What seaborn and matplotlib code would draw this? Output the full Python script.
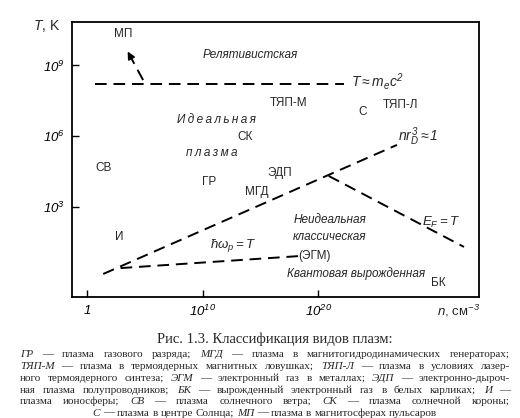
import matplotlib
matplotlib.use("Agg")
import matplotlib.pyplot as plt
import seaborn as sns
import pandas as pd

# координаты в показателях степени: lg n (см^-3) и lg T (K)
rel_n = [0.7, 22.2]
rel_T = [8.2, 8.2]
deb_n = [1.4, 26.8]
deb_T = [0.13, 5.62]
ferm_n = [20.9, 32.6]
ferm_T = [4.3, 1.28]
plas_n = [2.9, 18.3]
plas_T = [0.38, 0.89]
mp_n = [4.85, 3.4]
mp_T = [8.38, 9.7]

x_ticks = [0, 10, 20]
x_ticklabels = [r"$1$", r"$10^{10}$", r"$10^{20}$"]
y_ticks = [3, 6, 9]
y_ticklabels = [r"$10^{3}$", r"$10^{6}$", r"$10^{9}$"]

# подписи областей: текст, lg n, lg T (курсив)
region_names = ["Релятивистская", "И\u2009д\u2009е\u2009а\u2009л\u2009ь\u2009н\u2009а\u2009я",
                "п\u2009л\u2009а\u2009з\u2009м\u2009а", "Неидеальная", "классическая",
                "Квантовая вырожденная"]
region_n = [14.1, 11.2, 10.8, 21.0, 21.0, 23.3]
region_T = [9.45, 6.68, 5.28, 2.43, 1.72, 0.13]

plasma_names = ["МП", "ТЯП-М", "С", "ТЯП-Л", "СК", "СВ", "ГР", "МГД", "ЭДП", "И", "(ЭГМ)", "БК"]
plasma_n = [3.1, 17.4, 23.8, 27.1, 13.7, 1.4, 10.6, 14.7, 16.7, 2.8, 19.7, 30.4]
plasma_T = [10.34, 7.4, 7.02, 7.3, 5.96, 4.64, 4.04, 3.6, 4.43, 1.7, 0.89, -0.25]

caption_title = "Рис. 1.3. Классификация видов плазм:"
caption_lines = [
    "*ГР* — плазма газового разряда; *МГД* — плазма в магнитогидродинамических генераторах;",
    "*ТЯП-М* — плазма в термоядерных магнитных ловушках; *ТЯП-Л* — плазма в условиях лазер-",
    "ного термоядерного синтеза; *ЭГМ* — электронный газ в металлах; *ЭДП* — электронно-дыроч-",
    "ная плазма полупроводников; *БК* — вырожденный электронный газ в белых карликах; *И* —",
    "плазма ионосферы; *СВ* — плазма солнечного ветра; *СК* — плазма солнечной короны;",
    "*С* — плазма в центре Солнца; *МП* — плазма в магнитосферах пульсаров",
]

sns.set_style("ticks")
plt.rcParams["font.family"] = ["Liberation Sans", "DejaVu Sans"]
plt.rcParams["mathtext.fontset"] = "custom"
plt.rcParams["mathtext.rm"] = "Liberation Sans:italic"
plt.rcParams["mathtext.it"] = "Liberation Sans:italic"
plt.rcParams["mathtext.bf"] = "Liberation Sans:bold"

W, H = 520, 418
fig = plt.figure(figsize=(W / 100, H / 100), dpi=100)
ax = fig.add_axes([72 / W, 1 - 297 / H, (479 - 72) / W, (297 - 22) / H])

dash = (0, (6, 3.5))
for xs, ys in [(rel_n, rel_T), (deb_n, deb_T), (ferm_n, ferm_T), (plas_n, plas_T), (mp_n, mp_T)]:
    df = pd.DataFrame({"n": xs, "T": ys})
    sns.lineplot(data=df, x="n", y="T", ax=ax, color="black", lw=1.4,
                 linestyle=dash, sort=False, estimator=None)

# наконечник стрелки МП
ax.annotate("", xy=(mp_n[1], mp_T[1]),
            xytext=(mp_n[1] + 0.25 * (mp_n[0] - mp_n[1]), mp_T[1] + 0.25 * (mp_T[0] - mp_T[1])),
            arrowprops=dict(arrowstyle="-|>", color="black", lw=1.2, mutation_scale=11))

for name, x, y in zip(region_names, region_n, region_T):
    ax.text(x, y, name, fontsize=8.5, style="italic", ha="center", va="center")
for name, x, y in zip(plasma_names, plasma_n, plasma_T):
    ax.text(x, y, name, fontsize=8.5, ha="center", va="center")

ax.text(rel_n[1] + 0.6, rel_T[1] + 0.12, r"$T \approx m_e c^2$", fontsize=10, ha="left", va="center")
ax.text(deb_n[1] + 0.1, deb_T[1] + 0.35, r"$n r_D^{3} \approx 1$", fontsize=10, ha="left", va="center")
ax.text(30.6, 2.34, r"$E_F = T$", fontsize=9.5, ha="center", va="center")
ax.text(12.6, 1.36, r"$\hbar\omega_p = T$", fontsize=9.5, ha="center", va="center")

ax.set_xlim(-1.3, 33.9)
ax.set_ylim(-0.85, 10.85)
ax.set_xticks(x_ticks)
ax.set_xticklabels(x_ticklabels)
ax.set_yticks(y_ticks)
ax.set_yticklabels(y_ticklabels)
ax.tick_params(direction="in", length=5, width=1, labelsize=9.5, pad=5, colors="black")
ax.set_xlabel("")
ax.set_ylabel("")
for s in ax.spines.values():
    s.set_visible(True)
    s.set_linewidth(1.3)
    s.set_color("black")

ax.text(-0.03, 0.985, r"$T$, K", transform=ax.transAxes, fontsize=10, ha="right", va="center")
ax.text(0.95, -0.05, r"$n$, см$^{-3}$", transform=ax.transAxes, fontsize=9.5, ha="center", va="center")

# подпись к рисунку
fig.text(275 / W, 1 - 339 / H, caption_title, fontsize=10.5, family="Liberation Serif",
         ha="center", va="center")

renderer = fig.canvas.get_renderer()


def caption_line(y_px, text, x0=20, x1=510, justify=True):
    objs = []
    for w in text.split(" "):
        it = w.startswith("*")
        objs.append(fig.text(0, 1 - y_px / H, w.strip("*"), fontsize=8, family="Liberation Serif",
                             style="italic" if it else "normal", va="baseline", ha="left"))
    widths = [o.get_window_extent(renderer).width for o in objs]
    if justify:
        gap = (x1 - x0 - sum(widths)) / (len(objs) - 1)
    else:
        gap = 2.8
        x0 = (x0 + x1) / 2 - (sum(widths) + gap * (len(objs) - 1)) / 2
    x = x0
    for o, w in zip(objs, widths):
        o.set_x(x / W)
        x += w + gap


baselines = [357, 369, 381, 393, 404.5, 415.5]
for i, (yb, line) in enumerate(zip(baselines, caption_lines)):
    caption_line(yb, line, justify=i < len(caption_lines) - 1)

fig.savefig("out.png", dpi=100)
